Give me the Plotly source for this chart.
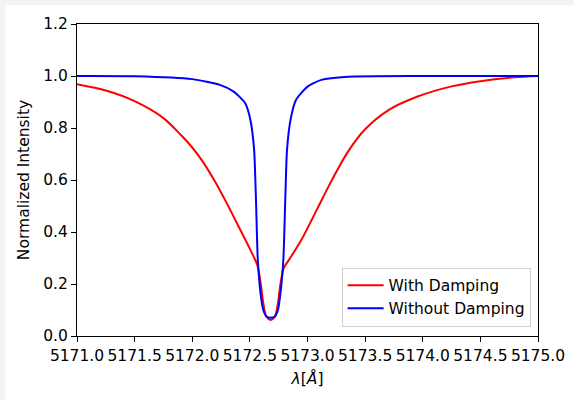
import plotly.graph_objects as go

# Wavelength (Angstrom) and normalized intensity
wl_damp = [5171.0, 5171.25, 5171.5, 5171.75, 5171.9, 5172.0, 5172.1, 5172.2,
           5172.3, 5172.4, 5172.5, 5172.565, 5172.595, 5172.615, 5172.64,
           5172.68, 5172.72, 5172.745, 5172.765, 5172.795, 5172.85, 5172.95,
           5173.08, 5173.2, 5173.35, 5173.5, 5173.7, 5173.95, 5174.25,
           5174.5, 5174.8, 5175.0]
int_damp = [0.968, 0.944, 0.903, 0.838, 0.774, 0.725, 0.665, 0.592,
            0.510, 0.423, 0.335, 0.272, 0.200, 0.130, 0.078,
            0.062, 0.078, 0.130, 0.200, 0.262, 0.300, 0.372,
            0.485, 0.590, 0.708, 0.795, 0.868, 0.920, 0.960,
            0.980, 0.995, 1.000]

wl_nodamp = [5171.0, 5171.5, 5172.0, 5172.24, 5172.36, 5172.46, 5172.505,
             5172.537, 5172.553, 5172.569, 5172.60, 5172.618, 5172.645, 5172.68,
             5172.715, 5172.742, 5172.76, 5172.79, 5172.807, 5172.822, 5172.855,
             5172.90, 5173.0, 5173.12, 5173.35, 5174.0, 5175.0]
int_nodamp = [1.000, 0.999, 0.988, 0.966, 0.940, 0.895, 0.830,
              0.715, 0.523, 0.290, 0.138, 0.098, 0.074, 0.070,
              0.074, 0.098, 0.145, 0.290, 0.523, 0.715, 0.837,
              0.908, 0.959, 0.985, 0.997, 1.000, 1.000]

labels = ["With Damping", "Without Damping"]
colors = ["red", "blue"]

FONT = "DejaVu Sans"
FS = 15.5

fig = go.Figure()
fig.add_trace(go.Scatter(x=wl_damp, y=int_damp, mode="lines", name=labels[0],
                         line=dict(color=colors[0], width=2, shape="spline", smoothing=0.8)))
fig.add_trace(go.Scatter(x=wl_nodamp, y=int_nodamp, mode="lines", name=labels[1],
                         line=dict(color=colors[1], width=2, shape="spline", smoothing=0.6)))

axis_common = dict(showline=True, mirror=True, linecolor="black", linewidth=1,
                   ticks="outside", ticklen=5, tickwidth=1, tickcolor="black",
                   showgrid=False, zeroline=False, automargin=False, tickangle=0,
                   tickfont=dict(family=FONT, size=FS, color="black"))

fig.update_xaxes(range=[5171.0, 5175.0], dtick=0.5, tick0=5171.0, tickformat=".1f",
                 title=dict(text="<i>λ</i>[<i>Å</i>]", font=dict(family=FONT, size=FS, color="black"),
                            standoff=9),
                 **axis_common)
fig.update_yaxes(range=[0, 1.2], dtick=0.2, tickformat=".1f",
                 title=dict(text="Normalized Intensity", font=dict(family=FONT, size=FS, color="black"),
                            standoff=9),
                 **axis_common)

# light gray frame strips (left and top) as in the reference screenshot
W, H = 574, 400
L, R, T, B = 77, 36, 24, 64
pw, ph = W - L - R, H - T - B
def px(xp):
    return (xp - L) / pw
def py(yp):
    return (H - B - yp) / ph
fig.add_shape(type="rect", xref="paper", yref="paper", x0=px(0), x1=px(5), y0=py(H), y1=py(0),
              fillcolor="#f3f3f3", line_width=0, layer="below")
fig.add_shape(type="rect", xref="paper", yref="paper", x0=px(0), x1=px(W), y0=py(5), y1=py(0),
              fillcolor="#f3f3f3", line_width=0, layer="below")

fig.update_layout(
    width=W, height=H,
    margin=dict(l=L, r=R, t=T, b=B, autoexpand=False),
    paper_bgcolor="white", plot_bgcolor="white",
    font=dict(family=FONT, size=FS, color="black"),
    showlegend=True,
    legend=dict(x=0.984, y=0.03, xanchor="right", yanchor="bottom",
                bgcolor="rgba(255,255,255,0.8)", bordercolor="#d0d0d0", borderwidth=1,
                font=dict(family=FONT, size=FS, color="black"), itemwidth=36),
)

fig.write_html("out.html")
